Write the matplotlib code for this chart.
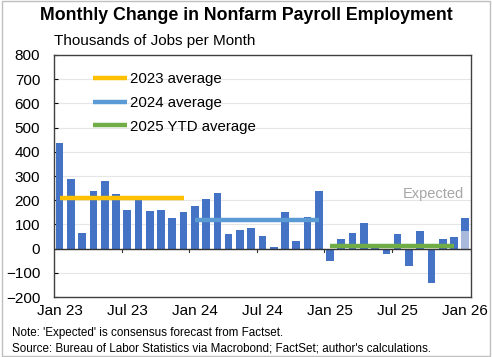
import numpy as np
import matplotlib
matplotlib.use("Agg")
import matplotlib.pyplot as plt
from matplotlib.patches import Rectangle

plt.rcParams['font.family'] = ['Liberation Sans', 'DejaVu Sans']

# monthly payroll change, Jan 2023 .. Jan 2026 (thousands)
months = ['Jan 23', 'Feb 23', 'Mar 23', 'Apr 23', 'May 23', 'Jun 23', 'Jul 23', 'Aug 23',
          'Sep 23', 'Oct 23', 'Nov 23', 'Dec 23', 'Jan 24', 'Feb 24', 'Mar 24', 'Apr 24',
          'May 24', 'Jun 24', 'Jul 24', 'Aug 24', 'Sep 24', 'Oct 24', 'Nov 24', 'Dec 24',
          'Jan 25', 'Feb 25', 'Mar 25', 'Apr 25', 'May 25', 'Jun 25', 'Jul 25', 'Aug 25',
          'Sep 25', 'Oct 25', 'Nov 25', 'Dec 25', 'Jan 26']
payrolls = [435, 289, 65, 239, 281, 225, 161, 218, 156, 158, 125, 153,
            175, 206, 228, 61, 76, 85, 51, 7, 153, 31, 132, 236,
            -50, 40, 65, 106, 14, -22, 61, -72, 74, -143, 38, 46, 128]
expected = 73  # consensus for Jan 26

avg_labels = ['2023 average', '2024 average', '2025 YTD average']
avg_values = [208, 119, 12]
avg_spans = [(0, 11), (12, 23), (24, 35)]
avg_colors = ['#FFC000', '#5B9BD5', '#70AD47']

tick_pos = [0, 6, 12, 18, 24, 30, 36]
tick_labels = [months[i] for i in tick_pos]

fig = plt.figure(figsize=(4.92, 3.57), dpi=100)
ax = fig.add_axes([0.1098, 0.168, 0.8472, 0.678])

x = np.arange(len(payrolls))
ax.bar(x, payrolls, width=0.68, color='#4472C4', zorder=2)
ax.bar(x[-1], expected, width=0.68, color='#A9B9DC', zorder=3)

for lab, v, (a, b), c in zip(avg_labels, avg_values, avg_spans, avg_colors):
    ax.plot([a, b], [v, v], color=c, lw=3.2, solid_capstyle='butt', zorder=4, label=lab)

ax.axhline(0, color='#333333', lw=1.0, zorder=5)
ax.set_xlim(-0.5, len(payrolls) - 0.5)
ax.set_ylim(-200, 800)
ax.set_yticks(np.arange(-200, 801, 100))
ax.yaxis.grid(True, color='#E6E6E6', lw=0.8, zorder=0)
ax.tick_params(axis='y', direction='in', length=3, labelsize=11, pad=10)
ax.set_xticks(tick_pos)
ax.set_xticklabels(tick_labels)
ax.tick_params(axis='x', length=0, labelsize=11, pad=5)
# small tick marks sitting on the zero line
for p in tick_pos[1:-1]:
    ax.plot([p - 0.5, p - 0.5], [0, -12], color='#333333', lw=0.8, zorder=6)
for s in ax.spines.values():
    s.set_color('#404040')
    s.set_linewidth(1.0)

ax.legend(loc='upper left', bbox_to_anchor=(0.079, 0.955), frameon=False, fontsize=10.8,
          handlelength=2.3, handletextpad=0.15, labelspacing=0.66, borderaxespad=0)

ax.text(35.9, 227, 'Expected', color='#A6A6A6', fontsize=10.5, ha='right', va='center')

fig.text(0.5, 0.957, 'Monthly Change in Nonfarm Payroll Employment', ha='center', va='center',
         fontsize=12.8, fontweight='bold')
fig.text(0.11, 0.885, 'Thousands of Jobs per Month', ha='left', va='center', fontsize=11)
fig.text(0.024, 0.068, "Note: 'Expected' is consensus forecast from Factset.", fontsize=8.4, va='center')
fig.text(0.024, 0.024, "Source: Bureau of Labor Statistics via Macrobond; FactSet; author's calculations.",
         fontsize=8.4, va='center')

fig.patches.append(Rectangle((0.004, 0.004), 0.992, 0.992, transform=fig.transFigure,
                             fill=False, edgecolor='#BFBFBF', lw=1.0))

fig.savefig('out.png', dpi=100)
